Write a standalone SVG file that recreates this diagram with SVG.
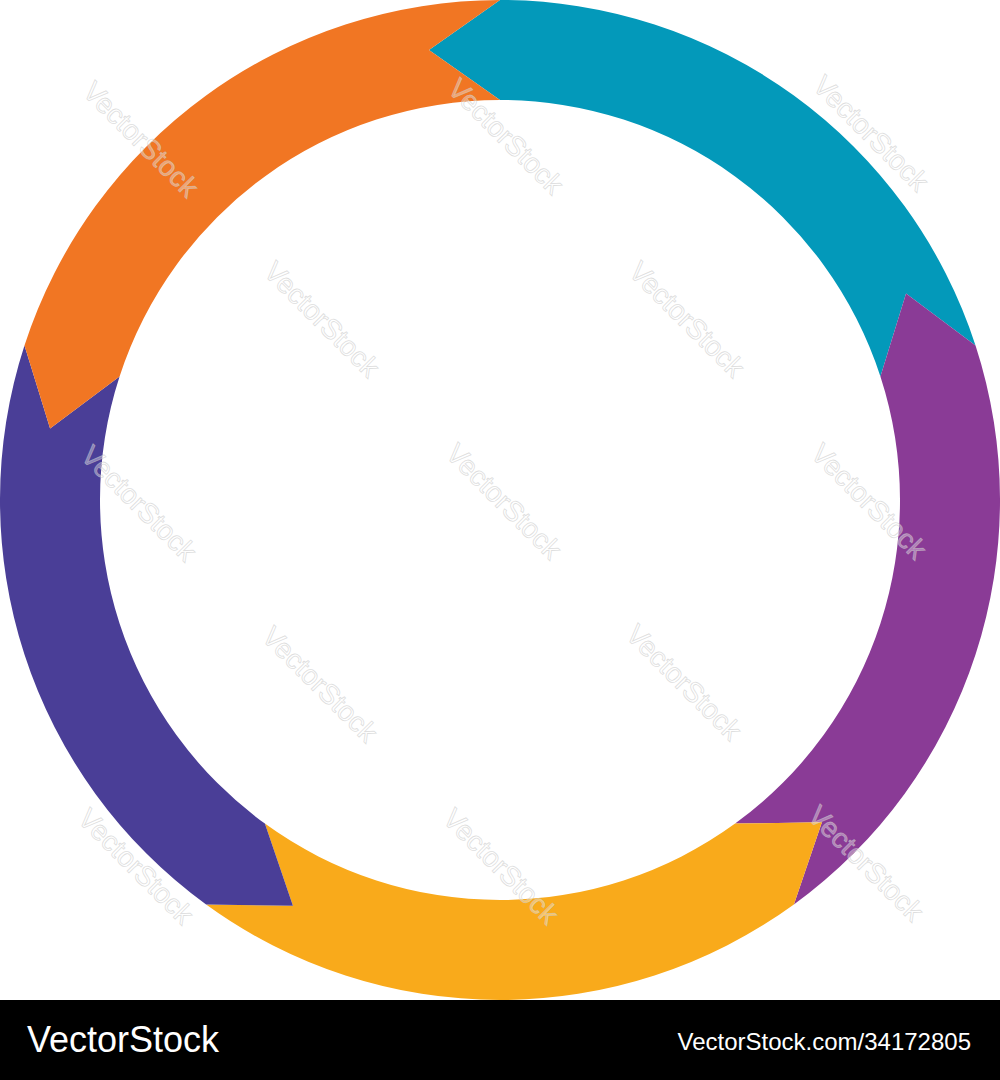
<svg xmlns="http://www.w3.org/2000/svg" width="1000" height="1080" viewBox="0 0 1000 1080">
<style>
.wm{font-family:"Liberation Sans",Arial,sans-serif;font-size:28px;fill:#ffffff;fill-opacity:0.35;stroke:#c8c8c8;stroke-opacity:0.6;stroke-width:0.8;text-anchor:middle}
.band{font-family:"Liberation Sans",Arial,sans-serif;fill:#ffffff}
</style>
<rect x="0" y="0" width="1000" height="1080" fill="#ffffff"/>
<g id="connectors"/>
<g id="teal"><path fill="#0399BA" d="M500,0 A500,500 0 0 1 975.53,345.49 L906.04,293.41 L880.42,376.39 A400,400 0 0 0 500,100 L429,50 Z"/></g>
<g id="purple"><path fill="#8A3B96" d="M975.53,345.49 A500,500 0 0 1 793.89,904.51 L821.94,822.33 L735.12,823.61 A400,400 0 0 0 880.42,376.39 L906.04,293.41 Z"/></g>
<g id="yellow"><path fill="#F9AA1B" d="M793.89,904.51 A500,500 0 0 1 206.11,904.51 L292.94,905.79 L264.88,823.61 A400,400 0 0 0 735.12,823.61 L821.94,822.33 Z"/></g>
<g id="navy"><path fill="#4A3E97" d="M206.11,904.51 A500,500 0 0 1 24.47,345.49 L50.08,428.47 L119.58,376.39 A400,400 0 0 0 264.88,823.61 L292.94,905.79 Z"/></g>
<g id="orange"><path fill="#F17623" d="M24.47,345.49 A500,500 0 0 1 500,0 L429,50 L500,100 A400,400 0 0 0 119.58,376.39 L50.08,428.47 Z"/></g>
<g id="watermarks">
<text class="wm" transform="translate(134,146) rotate(45)">VectorStock</text>
<text class="wm" transform="translate(499,143) rotate(45)">VectorStock</text>
<text class="wm" transform="translate(864,140) rotate(45)">VectorStock</text>
<text class="wm" transform="translate(315,326) rotate(45)">VectorStock</text>
<text class="wm" transform="translate(680,326) rotate(45)">VectorStock</text>
<text class="wm" transform="translate(132,510) rotate(45)">VectorStock</text>
<text class="wm" transform="translate(497,508) rotate(45)">VectorStock</text>
<text class="wm" transform="translate(862,508) rotate(45)">VectorStock</text>
<text class="wm" transform="translate(313,691) rotate(45)">VectorStock</text>
<text class="wm" transform="translate(677,689) rotate(45)">VectorStock</text>
<text class="wm" transform="translate(129,873) rotate(45)">VectorStock</text>
<text class="wm" transform="translate(494,873) rotate(45)">VectorStock</text>
<text class="wm" transform="translate(859,870) rotate(45)">VectorStock</text>
</g>
<g id="footer">
<rect x="0" y="1000" width="1000" height="80" fill="#000000"/>
<text class="band" x="27" y="1052" font-size="36">VectorStock</text>
<text class="band" x="971" y="1050" font-size="24" text-anchor="end">VectorStock.com/34172805</text>
</g>
</svg>
